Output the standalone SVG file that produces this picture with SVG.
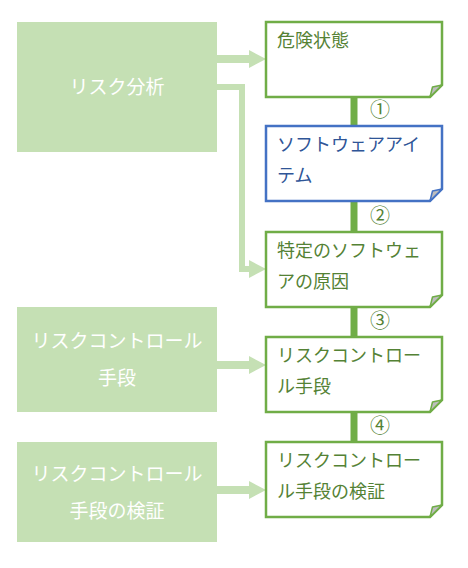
<svg xmlns="http://www.w3.org/2000/svg" width="468" height="568" viewBox="0 0 468 568">
<style>
.src{fill:#C5E0B4;}
.srct{fill:#FFFFFF;font-family:"Noto Sans CJK JP","Noto Sans",sans-serif;font-size:19px;text-anchor:middle;}
.doc{fill:#FFFFFF;stroke:#70AD47;stroke-width:2.5;}
.docb{fill:#FFFFFF;stroke:#4472C4;stroke-width:2.5;}
.fold{fill:#BDBDBD;stroke:#70AD47;stroke-width:1.5;stroke-linejoin:round;}
.foldb{fill:#BDBDBD;stroke:#4472C4;stroke-width:1.5;stroke-linejoin:round;}
.dt{fill:#548235;font-family:"Noto Sans CJK JP","Noto Sans",sans-serif;font-size:18px;}
.dtb{fill:#2F5597;font-family:"Noto Sans CJK JP","Noto Sans",sans-serif;font-size:18px;}
.num{fill:#548235;font-family:"Noto Sans CJK JP","DejaVu Sans",sans-serif;font-size:20px;text-anchor:middle;}
.arr{fill:#C5E0B4;}
.link{stroke:#70AD47;stroke-width:7;fill:none;}
</style>
<g id="connectors">
<polygon class="arr" points="217,55 249,55 249,50 266,59 249,68 249,63 217,63"/>
<polyline points="217,87 242,87 242,269 250,269" fill="none" stroke="#C5E0B4" stroke-width="6"/>
<polygon class="arr" points="249,260 266,269 249,278"/>
<polygon class="arr" points="217,361 249,361 249,356 266,365 249,374 249,369 217,369"/>
<polygon class="arr" points="217,486 249,486 249,481 266,490 249,499 249,494 217,494"/>
<line class="link" x1="354" y1="97" x2="354" y2="126"/>
<line class="link" x1="354" y1="201" x2="354" y2="232"/>
<line class="link" x1="354" y1="307" x2="354" y2="337"/>
<line class="link" x1="354" y1="412" x2="354" y2="442"/>
<text class="num" x="380" y="117">①</text>
<text class="num" x="380" y="223">②</text>
<text class="num" x="380" y="328">③</text>
<text class="num" x="380" y="433">④</text>
</g>
<g id="risk-analysis">
<rect class="src" x="17" y="22" width="200" height="130"/>
<text class="srct" x="117" y="94">リスク分析</text>
</g>
<g id="risk-control">
<rect class="src" x="17" y="307" width="200" height="105"/>
<text class="srct" x="117" y="348">リスクコントロール</text>
<text class="srct" x="117" y="385">手段</text>
</g>
<g id="risk-control-verification">
<rect class="src" x="17" y="442" width="200" height="100"/>
<text class="srct" x="117" y="481">リスクコントロール</text>
<text class="srct" x="117" y="518">手段の検証</text>
</g>
<g id="hazard">
<path class="doc" d="M266,22 H442 V85 L430,97 H266 Z"/>
<path class="fold" d="M430,97 L432.5,87 L442,85 Z"/>
<text class="dt" x="277" y="47">危険状態</text>
</g>
<g id="software-item">
<path class="docb" d="M266,126 H442 V189 L430,201 H266 Z"/>
<path class="foldb" d="M430,201 L432.5,191 L442,189 Z"/>
<text class="dtb" x="277" y="151">ソフトウェアアイ</text>
<text class="dtb" x="277" y="182">テム</text>
</g>
<g id="software-cause">
<path class="doc" d="M266,232 H442 V295 L430,307 H266 Z"/>
<path class="fold" d="M430,307 L432.5,297 L442,295 Z"/>
<text class="dt" x="277" y="257">特定のソフトウェ</text>
<text class="dt" x="277" y="288">アの原因</text>
</g>
<g id="control-measure">
<path class="doc" d="M266,337 H442 V400 L430,412 H266 Z"/>
<path class="fold" d="M430,412 L432.5,402 L442,400 Z"/>
<text class="dt" x="277" y="362">リスクコントロー</text>
<text class="dt" x="277" y="393">ル手段</text>
</g>
<g id="control-verification">
<path class="doc" d="M266,442 H442 V505 L430,517 H266 Z"/>
<path class="fold" d="M430,517 L432.5,507 L442,505 Z"/>
<text class="dt" x="277" y="467">リスクコントロー</text>
<text class="dt" x="277" y="498">ル手段の検証</text>
</g>
</svg>
